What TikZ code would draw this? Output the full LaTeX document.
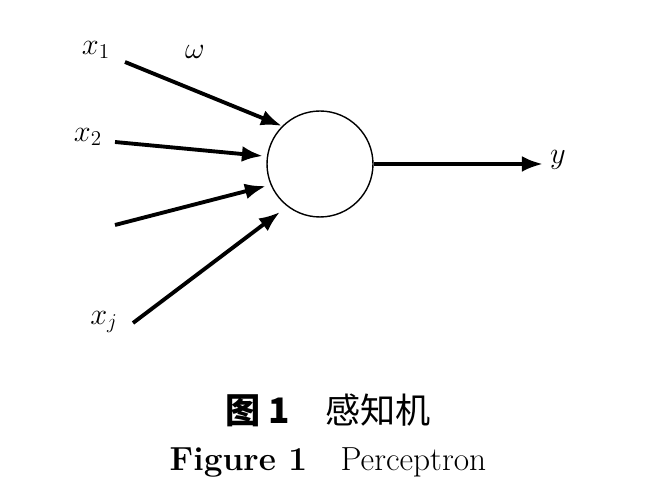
\documentclass[tikz,border=0pt]{standalone}
\usepackage{fontspec}
\newfontfamily\cjk{Noto Sans CJK SC}
\usetikzlibrary{arrows.meta}
\begin{document}
\begin{tikzpicture}[x=0.02cm,y=-0.02cm,
    wire/.style={line width=2.2pt,-{Latex[length=12pt,width=9pt]}},
    lab/.style={font=\fontsize{18}{20}\selectfont}]
		\useasboundingbox (0,0) rectangle (653,502);
		%Neuron
		\node[draw,circle,thick,minimum size=2.12cm] (n) at (320,164) {};
		%Inputs
		\coordinate (i1) at (125,62);
		\coordinate (i2) at (115,142);
		\coordinate (i3) at (115,225);
		\coordinate (i4) at (133,323);
		\coordinate (o) at (543,164);
		\draw[wire] (i1) -- (282,126);
		\draw[wire] (i2) -- (263,156);
		\draw[wire] (i3) -- (266,186);
		\draw[wire] (i4) -- (280,212);
		\draw[wire] (n.east) -- (o);
		%Labels
		\node[lab] (x1) at (96,50) {$x_1$};
		\node[lab] (w) at (195,52) {$\omega$};
		\node[lab] (x2) at (88,137) {$x_2$};
		\node[lab] (xj) at (104,322) {$x_j$};
		\node[lab] (y) at (558,160) {$y$};
		%Caption
		\node (c1) at (328,410) {\fontsize{20}{24}\selectfont\cjk\textbf{图 1}\quad 感知机};
		\node (c2) at (328,462) {\fontsize{19}{24}\selectfont\textbf{Figure 1}\quad Perceptron};
\end{tikzpicture}
\end{document}
